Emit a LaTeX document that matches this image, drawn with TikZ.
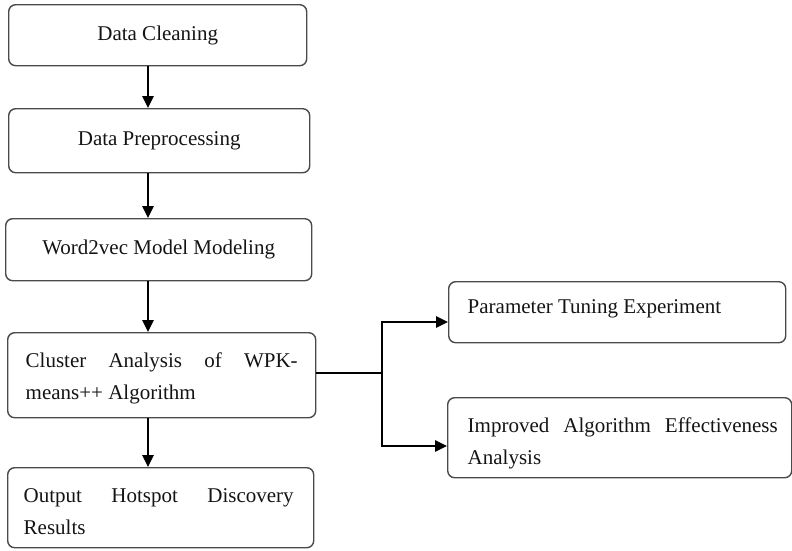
\documentclass[tikz,border=0pt]{standalone}
\usepackage{fontspec}
\setmainfont{Liberation Serif}
\usetikzlibrary{arrows.meta}

\definecolor{boxline}{HTML}{4A4A4A}
\definecolor{ink}{HTML}{141414}

% Top-aligned, justified box text: width, height, left margin, right margin, first-line depth, text
\newcommand\boxpar[6]{%
  \parbox[c][#2][t]{#1}{\leftskip=#3\relax\rightskip=#4\relax
    \hbadness=10000\rule{0pt}{#5}#6}}

\begin{document}
\begin{tikzpicture}[
  x=1pt, y=1pt,
  font=\fontsize{21pt}{32pt}\selectfont,
  stepbox/.style={draw=boxline, line width=1.4pt, rounded corners=7pt,
    inner sep=0pt, anchor=north west, text=ink},
  arr/.style={draw=black, line width=1.4pt,
    -{Triangle[length=12pt,width=11.5pt]}},
  link/.style={draw=black, line width=1.4pt}
]
\useasboundingbox (0,0) rectangle (792,-550);

% main pipeline
\node[stepbox, minimum width=298pt, minimum height=61pt] (b1) at (8,-4)
  {Data Cleaning};
\node[stepbox, minimum width=301pt, minimum height=64pt] (b2) at (8,-108)
  {Data Preprocessing};
\node[stepbox, minimum width=306pt, minimum height=62pt] (b3) at (5,-218)
  {Word2vec Model Modeling};
\node[stepbox] (b4) at (7,-332)
  {\boxpar{308pt}{85pt}{18pt}{18pt}{35pt}{Cluster Analysis of WPK-\linebreak means++ Algorithm}};
\node[stepbox] (b5) at (7,-467)
  {\boxpar{306pt}{80pt}{16pt}{20pt}{35pt}{Output Hotspot Discovery\linebreak Results}};

% side branches
\node[stepbox] (pa) at (448,-281)
  {\boxpar{337pt}{61pt}{19pt}{10pt}{32pt}{Parameter Tuning Experiment}};
\node[stepbox] (pb) at (447,-397)
  {\boxpar{344pt}{80pt}{20pt}{14pt}{35pt}{Improved Algorithm Effectiveness\linebreak Analysis}};

% vertical flow arrows
\coordinate (ax) at (148,0);
\draw[arr] (b1.south -| ax) -- (b2.north -| ax);
\draw[arr] (b2.south -| ax) -- (b3.north -| ax);
\draw[arr] (b3.south -| ax) -- (b4.north -| ax);
\draw[arr] (b4.south -| ax) -- (b5.north -| ax);

% split towards the two experiments
\coordinate (split) at (382,-373);
\coordinate (ya) at (0,-322);
\coordinate (yb) at (0,-446);
\draw[link] (b4.east |- split) -- (split);
\draw[arr] (split) |- (pa.west |- ya);
\draw[arr] (split) |- (pb.west |- yb);
\end{tikzpicture}
\end{document}
